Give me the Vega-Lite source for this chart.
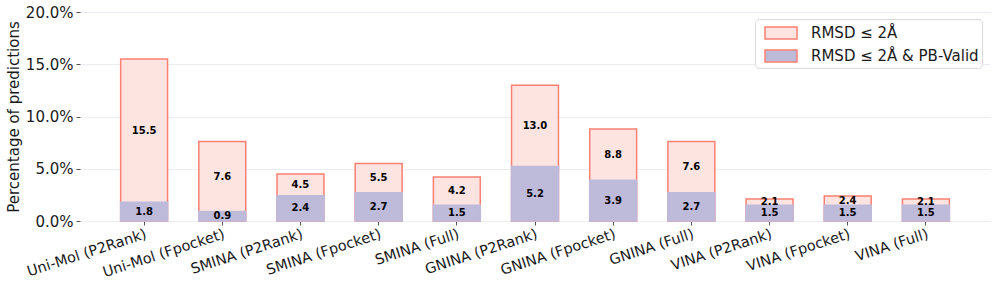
{
  "$schema": "https://vega.github.io/schema/vega-lite/v6.json",
  "width": 910,
  "height": 209,
  "autosize": {"type": "none"},
  "padding": {"left": 80, "top": 12, "right": 7, "bottom": 73},
  "config": {
    "view": {"stroke": null},
    "font": "DejaVu Sans",
    "axis": {"labelFont": "DejaVu Sans", "titleFont": "DejaVu Sans", "labelColor": "#1a1a1a", "titleColor": "#1a1a1a"}
  },
  "data": {
    "values": [
      {"method": "Uni-Mol (P2Rank)", "total": 15.5, "valid": 1.8},
      {"method": "Uni-Mol (Fpocket)", "total": 7.6, "valid": 0.9},
      {"method": "SMINA (P2Rank)", "total": 4.5, "valid": 2.4},
      {"method": "SMINA (Fpocket)", "total": 5.5, "valid": 2.7},
      {"method": "SMINA (Full)", "total": 4.2, "valid": 1.5},
      {"method": "GNINA (P2Rank)", "total": 13.0, "valid": 5.2},
      {"method": "GNINA (Fpocket)", "total": 8.8, "valid": 3.9},
      {"method": "GNINA (Full)", "total": 7.6, "valid": 2.7},
      {"method": "VINA (P2Rank)", "total": 2.1, "valid": 1.5},
      {"method": "VINA (Fpocket)", "total": 2.4, "valid": 1.5},
      {"method": "VINA (Full)", "total": 2.1, "valid": 1.5}
    ]
  },
  "encoding": {
    "x": {
      "field": "method",
      "type": "nominal",
      "sort": null,
      "scale": {
        "domain": ["Uni-Mol (P2Rank)", "Uni-Mol (Fpocket)", "SMINA (P2Rank)", "SMINA (Fpocket)", "SMINA (Full)", "GNINA (P2Rank)", "GNINA (Fpocket)", "GNINA (Full)", "VINA (P2Rank)", "VINA (Fpocket)", "VINA (Full)"],
        "paddingInner": 0.4,
        "paddingOuter": 0.52
      },
      "axis": {
        "title": null,
        "labelAngle": -18,
        "labelAlign": "right",
        "labelBaseline": "top",
        "labelFontSize": 14.5,
        "labelPadding": 2,
        "labelDx": -7,
        "labelLimit": 300,
        "domain": false,
        "ticks": true,
        "tickColor": "#555555",
        "tickSize": 4,
        "tickWidth": 1,
        "grid": false
      }
    }
  },
  "layer": [
    {
      "mark": {"type": "bar", "stroke": "#fa8072", "strokeWidth": 1.5},
      "encoding": {
        "y": {
          "field": "total",
          "type": "quantitative",
          "scale": {"domain": [0, 20], "nice": false},
          "axis": {
            "title": "Percentage of predictions",
            "titleFontSize": 15,
            "titleFontWeight": "normal",
            "titlePadding": 4,
            "values": [0, 5, 10, 15, 20],
            "labelExpr": "format(datum.value, '.1f') + '%'",
            "labelFontSize": 15,
            "labelPadding": 3,
            "domain": false,
            "tickColor": "#555555",
            "tickSize": 4,
            "grid": true,
            "gridColor": "#ececf5",
            "gridWidth": 1
          }
        },
        "fill": {
          "datum": "RMSD ≤ 2Å",
          "type": "nominal",
          "scale": {"domain": ["RMSD ≤ 2Å", "RMSD ≤ 2Å & PB-Valid"], "range": ["#fde4e1", "#bebada"]},
          "legend": {
            "title": null,
            "orient": "none",
            "legendX": 675,
            "legendY": 7,
            "fillColor": "#ffffff",
            "strokeColor": "#d9d9d9",
            "cornerRadius": 4,
            "padding": 3,
            "symbolSize": 400,
            "symbolType": "M-0.4,-0.6H2.8V0.6H-0.4Z",
            "symbolOpacity": 1,
            "labelOffset": 31,
            "rowPadding": 3,
            "labelFontSize": 15,
            "labelFont": "DejaVu Sans",
            "labelColor": "#1a1a1a",
            "labelLimit": 400,
            "encode": {
              "symbols": {
                "update": {
                  "stroke": {"signal": "datum.value === 'RMSD ≤ 2Å' ? '#fa8072' : null"},
                  "strokeWidth": {"value": 1.5}
                }
              }
            }
          }
        }
      }
    },
    {
      "mark": {"type": "bar", "stroke": "#bebada", "strokeWidth": 1.6},
      "encoding": {
        "y": {"field": "valid", "type": "quantitative", "scale": {"domain": [0, 20], "nice": false}, "axis": null},
        "fill": {"datum": "RMSD ≤ 2Å & PB-Valid", "type": "nominal"}
      }
    },
    {
      "transform": [
        {"fold": ["total", "valid"], "as": ["k", "v"]},
        {"aggregate": [{"op": "mean", "field": "v", "as": "mid"}, {"op": "max", "field": "v", "as": "tot"}], "groupby": ["method"]}
      ],
      "mark": {"type": "text", "fontWeight": "bold", "fontSize": 10, "font": "DejaVu Sans", "color": "#000000", "baseline": "middle"},
      "encoding": {
        "y": {"field": "mid", "type": "quantitative", "scale": {"domain": [0, 20], "nice": false}, "axis": null},
        "text": {"field": "tot", "type": "quantitative", "format": ".1f"}
      }
    },
    {
      "mark": {"type": "text", "fontWeight": "bold", "fontSize": 10, "font": "DejaVu Sans", "color": "#000000", "baseline": "middle"},
      "encoding": {
        "y": {"field": "valid", "type": "quantitative", "scale": {"domain": [0, 40], "nice": false}, "axis": null},
        "text": {"field": "valid", "type": "quantitative", "format": ".1f"}
      }
    }
  ],
  "resolve": {"scale": {"y": "independent"}}
}
